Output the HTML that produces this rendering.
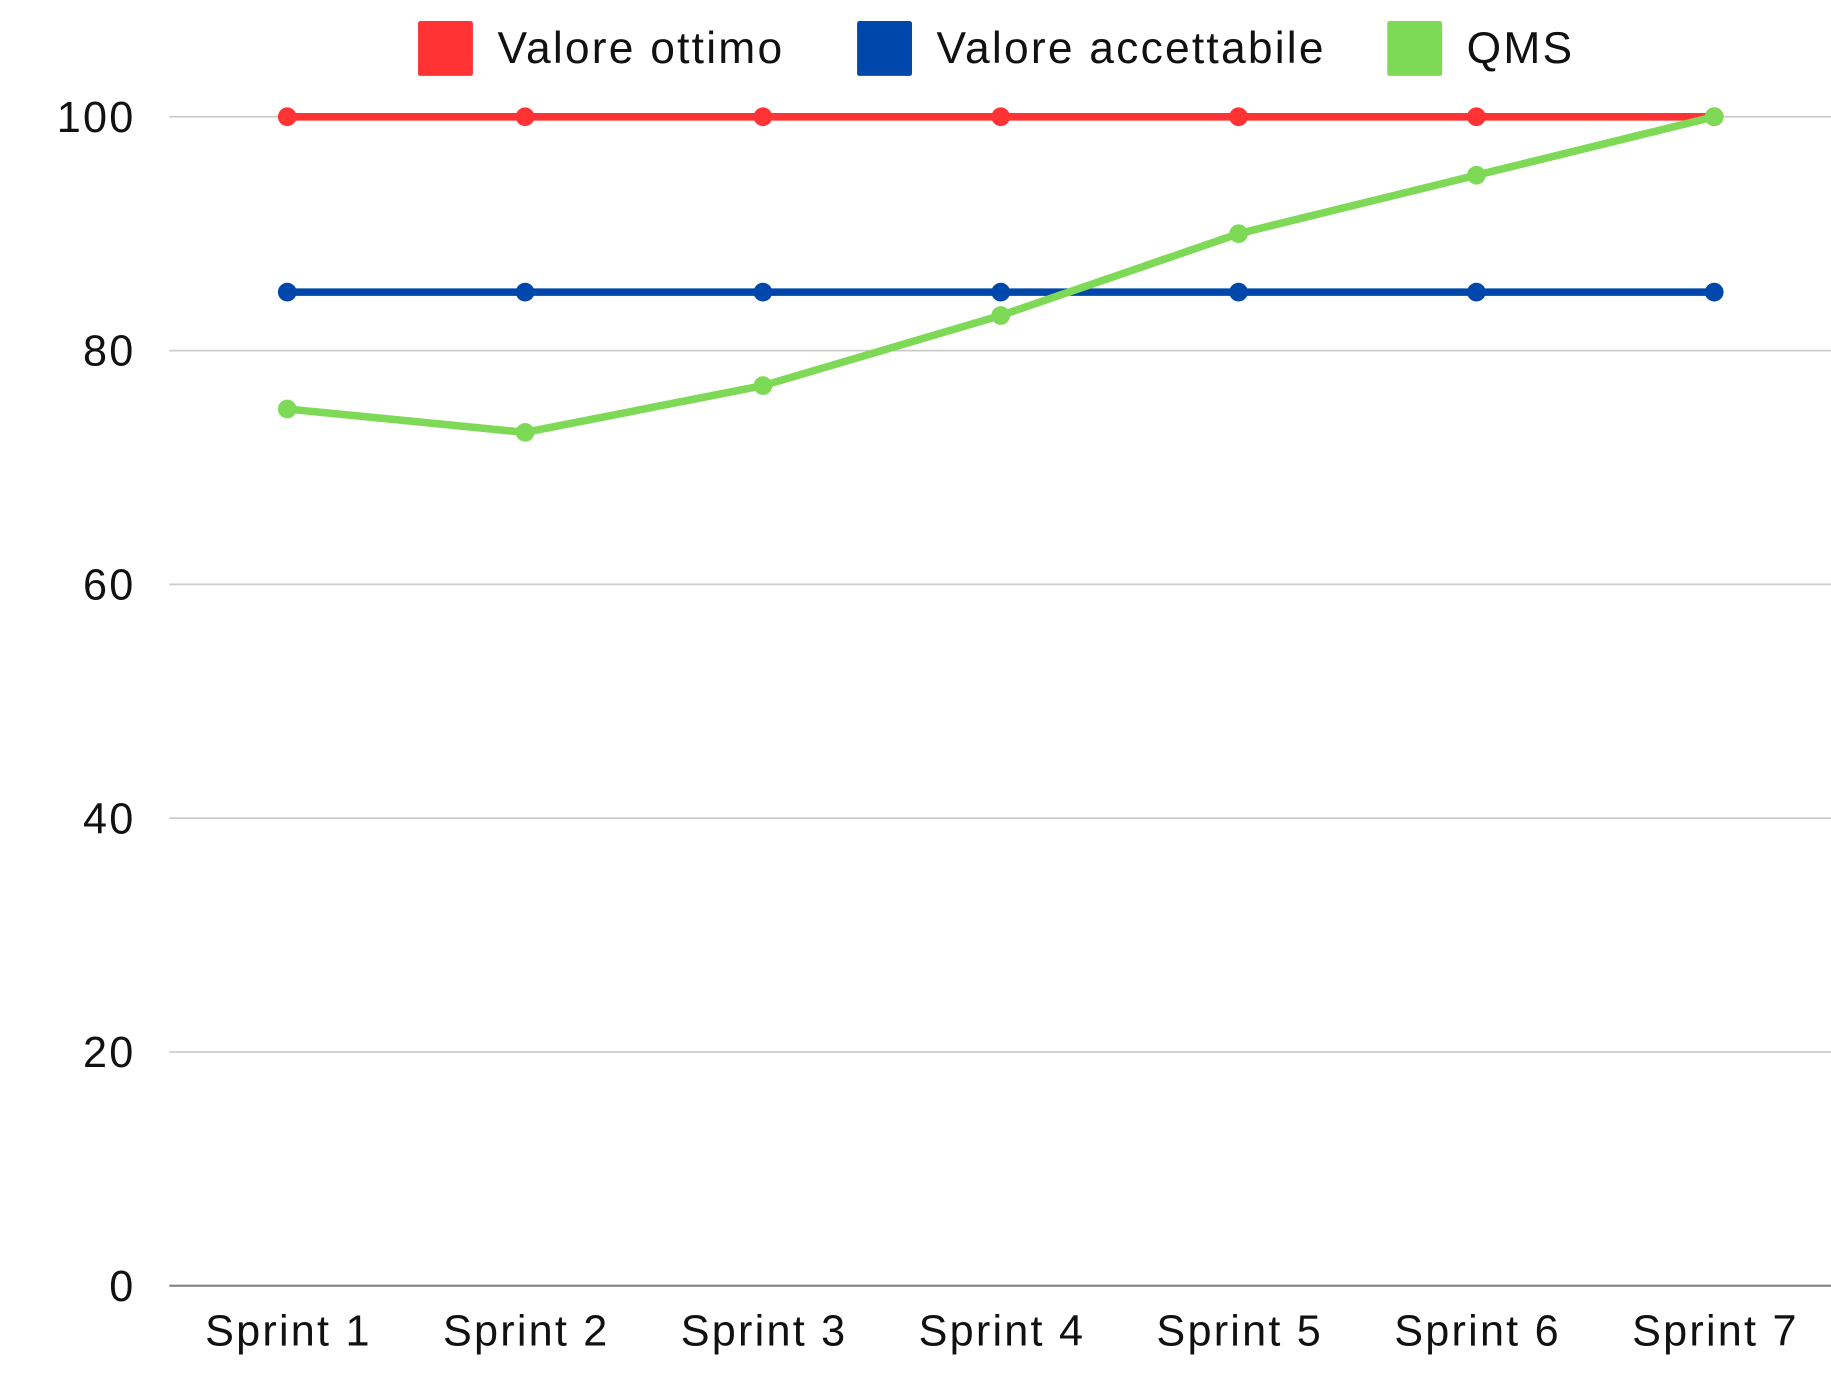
<!DOCTYPE html>
<html><head><meta charset="utf-8"><style>
html,body{margin:0;padding:0;background:#fff;}
svg{display:block;font-family:"Liberation Sans",sans-serif;}
text{letter-spacing:1.9px;}
</style></head><body>
<svg id="chart" width="1831" height="1378" viewBox="0 0 1568 1180" preserveAspectRatio="none" xmlns="http://www.w3.org/2000/svg">
<g id="grid"></g>
<g id="ylabels"></g>
<g id="xlabels"></g>
<g id="series"></g>
<g id="legend">
  <rect x="358" y="18" width="47" height="47" rx="2" fill="#ff3333"/>
  <text x="426" y="54" font-size="38" fill="#111">Valore ottimo</text>
  <rect x="734" y="18" width="47" height="47" rx="2" fill="#0047ab"/>
  <text x="802" y="54" font-size="38" fill="#111">Valore accettabile</text>
  <rect x="1188" y="18" width="47" height="47" rx="2" fill="#7ed957"/>
  <text x="1256" y="54" font-size="38" fill="#111">QMS</text>
</g>
</svg>
<script>
const categories = ["Sprint 1","Sprint 2","Sprint 3","Sprint 4","Sprint 5","Sprint 6","Sprint 7"];
const valoreOttimo = [100,100,100,100,100,100,100];
const valoreAccettabile = [85,85,85,85,85,85,85];
const qms = [75,73,77,83,90,95,100];
const yTicks = [0,20,40,60,80,100];

const NS = "http://www.w3.org/2000/svg";
const plotLeft = 145, plotRight = 1568, yTop = 100, yBottom = 1101;
const firstX = 246, stepX = (1468 - 246) / 6;
function xScale(i){ return firstX + i * stepX; }
function yScale(v){ return yBottom - (v / 100) * (yBottom - yTop); }
function mk(tag, attrs, parent){
  const e = document.createElementNS(NS, tag);
  for (const k in attrs) e.setAttribute(k, attrs[k]);
  parent.appendChild(e);
  return e;
}
const grid = document.getElementById('grid');
const ylabels = document.getElementById('ylabels');
yTicks.forEach(t => {
  const y = yScale(t);
  const l = mk('line', {x1: plotLeft, x2: plotRight, y1: y, y2: y, stroke: t === 0 ? '#888' : '#cccccc', 'stroke-width': t === 0 ? 2 : 1.5}, grid);
  
  
  const tx = mk('text', {x: 116, y: y + 13, 'text-anchor': 'end', 'font-size': 37, fill: '#111'}, ylabels);
  tx.textContent = t;
  
  
});
const xlabels = document.getElementById('xlabels');
categories.forEach((c, i) => {
  const tx = mk('text', {x: xScale(i) + 1, y: 1152, 'text-anchor': 'middle', 'font-size': 37, fill: '#111'}, xlabels);
  tx.textContent = c;
  
  
});
const seriesG = document.getElementById('series');
function drawSeries(vals, color, name){
  const g = mk('g', {}, seriesG);
  
  
  const pts = vals.map((v, i) => xScale(i) + ',' + yScale(v)).join(' ');
  const pl = mk('polyline', {points: pts, fill: 'none', stroke: color, 'stroke-width': 6.5, 'stroke-linejoin': 'round', 'stroke-linecap': 'round'}, g);
  
  
  vals.forEach((v, i) => {
    const c = mk('circle', {cx: xScale(i), cy: yScale(v), r: 8, fill: color}, g);
    
    
  });
}
drawSeries(valoreOttimo, '#ff3333', 'valore-ottimo');
drawSeries(valoreAccettabile, '#0047ab', 'valore-accettabile');
drawSeries(qms, '#7ed957', 'qms');
</script>
</body></html>
